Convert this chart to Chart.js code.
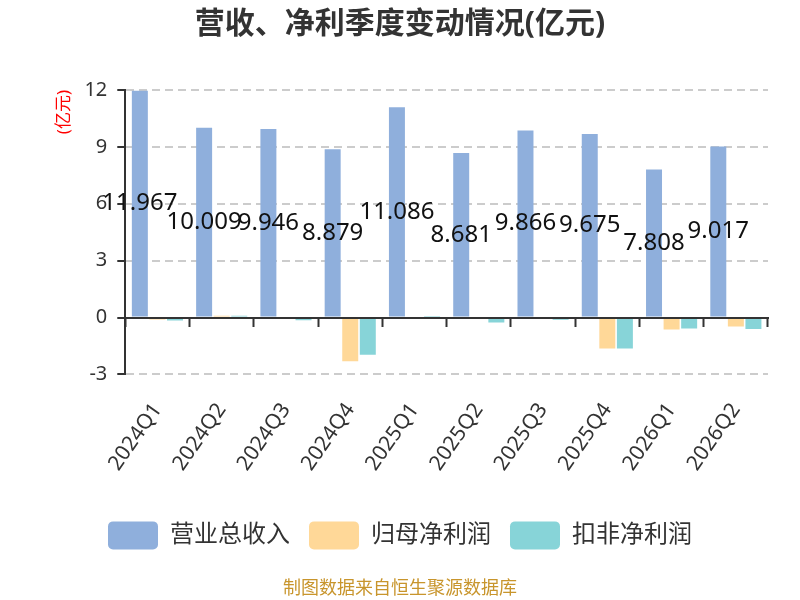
<!DOCTYPE html>
<html>
<head>
<meta charset="utf-8">
<script src="https://cdn.jsdelivr.net/npm/chart.js@4/dist/chart.umd.min.js"></script>
<style>
  html, body { margin: 0; padding: 0; background: #fff; }
  #wrap { width: 800px; height: 600px; }
</style>
</head>
<body>
<div id="wrap"><canvas id="Canvas" width="800" height="600"></canvas></div>
<script>
// 数据
let quarters = ["2024Q1", "2024Q2", "2024Q3", "2024Q4", "2025Q1", "2025Q2", "2025Q3", "2025Q4", "2026Q1", "2026Q2"];
let revenue = [11.967, 10.009, 9.946, 8.879, 11.086, 8.681, 9.866, 9.675, 7.808, 9.017];
let netProfit = [-0.10, 0.09, -0.08, -2.31, 0.05, -0.06, -0.03, -1.64, -0.63, -0.48];
let deductedProfit = [-0.16, 0.09, -0.15, -1.97, 0.03, -0.26, -0.12, -1.63, -0.58, -0.60];
let yTicks = [-3, 0, 3, 6, 9, 12];

const fontFamily = '"Noto Sans", "Noto Sans CJK SC", sans-serif';

// 营业总收入 柱子中间的数值
const valueLabels = {
  id: "valueLabels",
  afterDatasetsDraw(chart) {
    let ctx = chart.ctx;
    let meta = chart.getDatasetMeta(0);
    ctx.save();
    ctx.font = "24px " + fontFamily;
    ctx.fillStyle = "#111";
    ctx.textAlign = "center";
    ctx.textBaseline = "middle";
    meta.data.forEach(function (bar, i) {
      ctx.fillText(revenue[i].toFixed(3), bar.x, (bar.y + bar.base) / 2);
    });
    ctx.restore();
  }
};

function criarGrafico() {
  let ctx = document.getElementById("Canvas").getContext("2d");

  new Chart(ctx, {
    type: "bar",
    data: {
      labels: quarters,
      datasets: [
        {
          label: "营业总收入",
          data: revenue,
          backgroundColor: "#8FAFDC",
          categoryPercentage: 0.82,
          barPercentage: 0.91
        },
        {
          label: "归母净利润",
          data: netProfit,
          backgroundColor: "#FFD898",
          categoryPercentage: 0.82,
          barPercentage: 0.91
        },
        {
          label: "扣非净利润",
          data: deductedProfit,
          backgroundColor: "#87D4D8",
          categoryPercentage: 0.82,
          barPercentage: 0.91
        }
      ]
    },
    options: {
      responsive: false,
      animation: false,
      layout: { padding: { left: 32, right: 32, top: 0, bottom: 0 } },
      plugins: {
        title: {
          display: true,
          text: "营收、净利季度变动情况(亿元)",
          color: "#333",
          font: { family: fontFamily, size: 30, weight: "bold" },
          padding: { top: 6, bottom: 48 }
        },
        subtitle: {
          display: true,
          position: "bottom",
          text: "制图数据来自恒生聚源数据库",
          color: "#C8952C",
          font: { family: fontFamily, size: 18 },
          padding: { top: 19, bottom: 0 }
        },
        legend: {
          position: "bottom",
          labels: {
            boxWidth: 50,
            boxHeight: 28,
            useBorderRadius: true,
            borderRadius: 5,
            padding: 19,
            color: "#333",
            font: { family: fontFamily, size: 24 }
          }
        },
        tooltip: { enabled: false }
      },
      scales: {
        x: {
          position: "bottom",
          grid: { display: false, drawTicks: false },
          border: { display: false },
          ticks: {
            color: "#333",
            font: { family: fontFamily, size: 21 },
            minRotation: 55,
            maxRotation: 55,
            padding: 24
          },
          afterFit: function (scale) {
            scale.height = 128;
          }
        },
        x0: {
          type: "category",
          position: { y: 0 },
          offset: true,
          grid: {
            offset: true,
            drawOnChartArea: false,
            drawTicks: true,
            tickLength: 8,
            tickColor: "#333",
            tickWidth: 2,
            z: 1
          },
          border: { display: true, color: "#333", width: 2, z: 1 },
          ticks: { display: false }
        },
        y: {
          min: yTicks[0],
          max: yTicks[yTicks.length - 1],
          ticks: {
            stepSize: 3,
            color: "#333",
            padding: 10,
            font: { family: fontFamily, size: 20 }
          },
          grid: {
            color: function (c) {
              return c.tick && c.tick.value === 0 ? "rgba(0,0,0,0)" : "#ccc";
            },
            lineWidth: 2,
            tickLength: 8,
            tickColor: "#333",
            tickWidth: 2,
            tickBorderDash: []
          },
          border: { display: true, color: "#333", width: 2, dash: [8, 5] },
          title: {
            display: true,
            text: "(亿元)",
            align: "end",
            color: "#f00",
            font: { family: fontFamily, size: 17 },
            padding: { top: 22, bottom: 0 }
          }
        }
      }
    },
    plugins: [valueLabels]
  });
}

criarGrafico();
</script>
</body>
</html>
